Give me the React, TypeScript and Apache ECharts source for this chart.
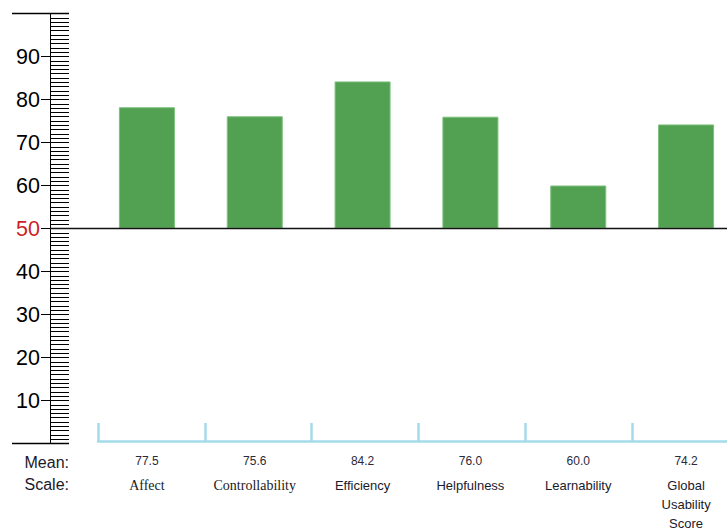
import React, { useEffect, useRef } from "react";
import * as echarts from "echarts";

const scales = ["Affect", "Controllability", "Efficiency", "Helpfulness", "Learnability", "Global Usability Score"];
const meanLabels = ["77.5", "75.6", "84.2", "76.0", "60.0", "74.2"];
const barValues = [78.2, 76.1, 84.2, 76.0, 60.0, 74.2];
const baseline = 50;
const yTickLabels = [10, 20, 30, 40, 50, 60, 70, 80, 90];
const serifScales = ["Affect", "Controllability"];

export default function App() {
  const ref = useRef<HTMLDivElement>(null);
  useEffect(() => {
    const chart = echarts.init(ref.current!, null, { renderer: "svg" });
    const green = "#52a052";
    const blue = "#a3dbeb";
    const option: any = {
      animation: false,
      grid: [
        { left: 93, top: 13.5, width: 647, height: 430, outerBoundsMode: "none", containLabel: false },
        { left: 98, top: 13.5, width: 640.8, height: 427.5, outerBoundsMode: "none", containLabel: false },
      ],
      xAxis: [
        {
          type: "category",
          gridIndex: 0,
          data: scales,
          axisLine: { show: false },
          axisTick: { show: false },
          axisLabel: {
            interval: 0,
            margin: 3,
            formatter: (v: string, i: number) => {
              const st = serifScales.includes(v) ? "t" : "s";
              const parts = v === "Global Usability Score" ? v.split(" ") : [v];
              return `{m|${meanLabels[i]}}\n` + parts.map((p) => `{${st}|${p}}`).join("\n");
            },
            rich: {
              m: { fontFamily: "Liberation Sans, Arial", fontSize: 12, lineHeight: 29, color: "#2a2a3a", align: "center" },
              s: { fontFamily: "Liberation Sans, Arial", fontSize: 13, lineHeight: 19, color: "#1a1a2a", align: "center" },
              t: { fontFamily: "Liberation Serif, Times New Roman", fontSize: 14, lineHeight: 19, color: "#1a1a1a", align: "center" },
            },
          },
        },
        {
          type: "category",
          gridIndex: 1,
          data: scales,
          boundaryGap: true,
          axisLine: { show: true, lineStyle: { color: blue, width: 2.5 } },
          axisTick: { show: true, interval: 0, inside: true, length: 18, alignWithLabel: false, lineStyle: { color: blue, width: 2.5 } },
          axisLabel: { show: false },
        },
      ],
      yAxis: [
        {
          type: "value",
          gridIndex: 0,
          position: "left",
          min: 0,
          max: 100,
          interval: 1,
          offset: 43,
          axisLine: { show: true, lineStyle: { color: "#000", width: 1 } },
          axisTick: { show: true, inside: true, length: 19, lineStyle: { color: "#000", width: 1 } },
          axisLabel: { show: false },
          splitLine: { show: false },
        },
        {
          type: "value",
          gridIndex: 0,
          position: "left",
          min: 0,
          max: 100,
          interval: 10,
          offset: 43,
          axisLine: { show: false },
          axisTick: { show: true, inside: false, length: 9, lineStyle: { color: "#000", width: 1 } },
          axisLabel: {
            margin: 10,
            formatter: (v: number) => {
              if (!yTickLabels.includes(v)) return "";
              return v === baseline ? `{r|${v}}` : `{k|${v}}`;
            },
            rich: {
              k: { fontFamily: "Liberation Sans, Arial", fontSize: 21.5, color: "#000" },
              r: { fontFamily: "Liberation Sans, Arial", fontSize: 21.5, color: "#cc1f26" },
            },
          },
          splitLine: { show: false },
        },
        { type: "value", gridIndex: 1, min: 0, max: 1, show: false },
      ],
      series: [
        {
          type: "bar",
          xAxisIndex: 0,
          yAxisIndex: 0,
          stack: "s",
          barWidth: 56,
          data: barValues.map(() => baseline),
          itemStyle: { color: "rgba(0,0,0,0)" },
          silent: true,
        },
        {
          type: "bar",
          xAxisIndex: 0,
          yAxisIndex: 0,
          stack: "s",
          barWidth: 56,
          data: barValues.map((v) => +(v - baseline).toFixed(2)),
          itemStyle: { color: green, borderColor: "#7cc07c", borderWidth: 1 },
        },
      ],
    };
    chart.setOption(option);
    const yBase = chart.convertToPixel({ yAxisIndex: 0 }, baseline) as number;
    const yTop = chart.convertToPixel({ yAxisIndex: 0 }, 100) as number;
    const yBot = chart.convertToPixel({ yAxisIndex: 0 }, 0) as number;
    chart.setOption({
      graphic: [
        { type: "line", shape: { x1: 50, y1: yBase, x2: 727, y2: yBase }, style: { stroke: "#111", lineWidth: 1.5 }, z: 10 },
        { type: "line", shape: { x1: 12, y1: yTop, x2: 69, y2: yTop }, style: { stroke: "#000", lineWidth: 1.5 }, z: 10 },
        { type: "line", shape: { x1: 12, y1: yBot, x2: 69, y2: yBot }, style: { stroke: "#000", lineWidth: 1.5 }, z: 10 },
        { type: "text", x: 69, y: 462, style: { text: "Mean:", align: "right", verticalAlign: "middle", font: "16px 'Liberation Sans', Arial", fill: "#1a1a2a" } },
        { type: "text", x: 69, y: 484, style: { text: "Scale:", align: "right", verticalAlign: "middle", font: "16px 'Liberation Sans', Arial", fill: "#1a1a2a" } },
      ],
    });
    return () => chart.dispose();
  }, []);
  return <div ref={ref} style={{ position: "fixed", left: 0, top: 0, width: 727, height: 530, background: "#fff" }} />;
}
